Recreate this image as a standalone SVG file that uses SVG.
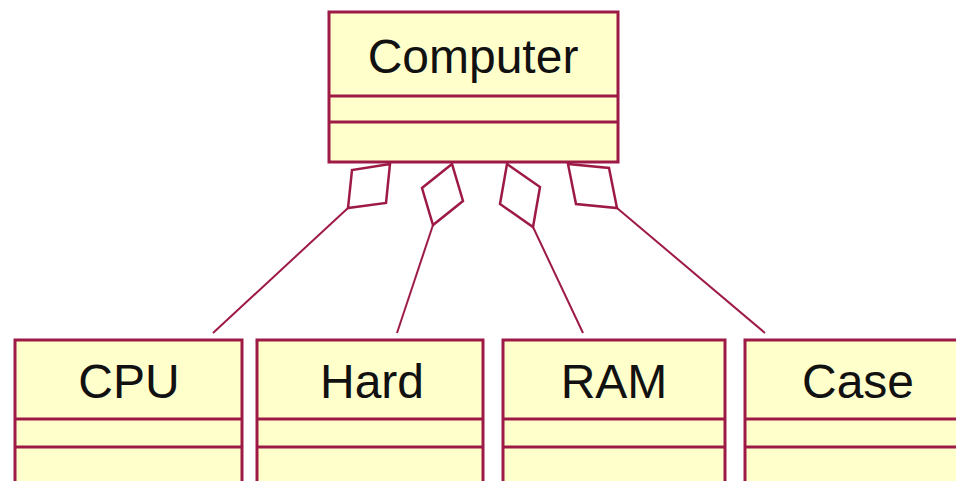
<svg xmlns="http://www.w3.org/2000/svg" width="956" height="481" viewBox="0 0 956 481">
  <style>
    .box { fill: #FFFFCC; stroke: #9E1A46; stroke-width: 3; }
    .sep { stroke: #9E1A46; stroke-width: 3; }
    .name { font-family: "Liberation Sans", Arial, sans-serif; font-size: 48px; fill: #111111; text-anchor: middle; }
    .link { fill: none; stroke: #9E1A46; stroke-width: 2; }
    .agg { fill: #FFFFFF; stroke: #9E1A46; stroke-width: 2.5; stroke-linejoin: miter; }
  </style>
  <rect width="956" height="481" fill="#FFFFFF"/>

  <!-- aggregations: line to part, hollow diamond at whole -->
  <g id="connectors">
    <line class="link" x1="348" y1="208" x2="213" y2="333"/>
    <polygon class="agg" points="390,164 352,170 348,208 386,203"/>
    <line class="link" x1="433" y1="225" x2="397" y2="333"/>
    <polygon class="agg" points="452,164 422,188 433,225 463,201"/>
    <line class="link" x1="533" y1="227" x2="583" y2="333"/>
    <polygon class="agg" points="507,164 500,204 533,227 540,187"/>
    <line class="link" x1="617" y1="208" x2="765" y2="333"/>
    <polygon class="agg" points="568,164 609,168 617,208 576,204"/>
  </g>

  <g id="computer">
    <rect class="box" x="329" y="12" width="289" height="150"/>
    <line class="sep" x1="329" y1="96" x2="618" y2="96"/>
    <line class="sep" x1="329" y1="122" x2="618" y2="122"/>
    <text class="name" x="473" y="73">Computer</text>
  </g>

  <g id="cpu">
    <rect class="box" x="15" y="340" width="227" height="160"/>
    <line class="sep" x1="15" y1="419" x2="242" y2="419"/>
    <line class="sep" x1="15" y1="447" x2="242" y2="447"/>
    <text class="name" x="129" y="398">CPU</text>
  </g>

  <g id="hard">
    <rect class="box" x="257" y="340" width="226" height="160"/>
    <line class="sep" x1="257" y1="419" x2="483" y2="419"/>
    <line class="sep" x1="257" y1="447" x2="483" y2="447"/>
    <text class="name" x="372" y="398">Hard</text>
  </g>

  <g id="ram">
    <rect class="box" x="503" y="340" width="222" height="160"/>
    <line class="sep" x1="503" y1="419" x2="725" y2="419"/>
    <line class="sep" x1="503" y1="447" x2="725" y2="447"/>
    <text class="name" x="614" y="398">RAM</text>
  </g>

  <g id="case">
    <rect class="box" x="745" y="340" width="230" height="160"/>
    <line class="sep" x1="745" y1="419" x2="975" y2="419"/>
    <line class="sep" x1="745" y1="447" x2="975" y2="447"/>
    <text class="name" x="858" y="398">Case</text>
  </g>
</svg>
